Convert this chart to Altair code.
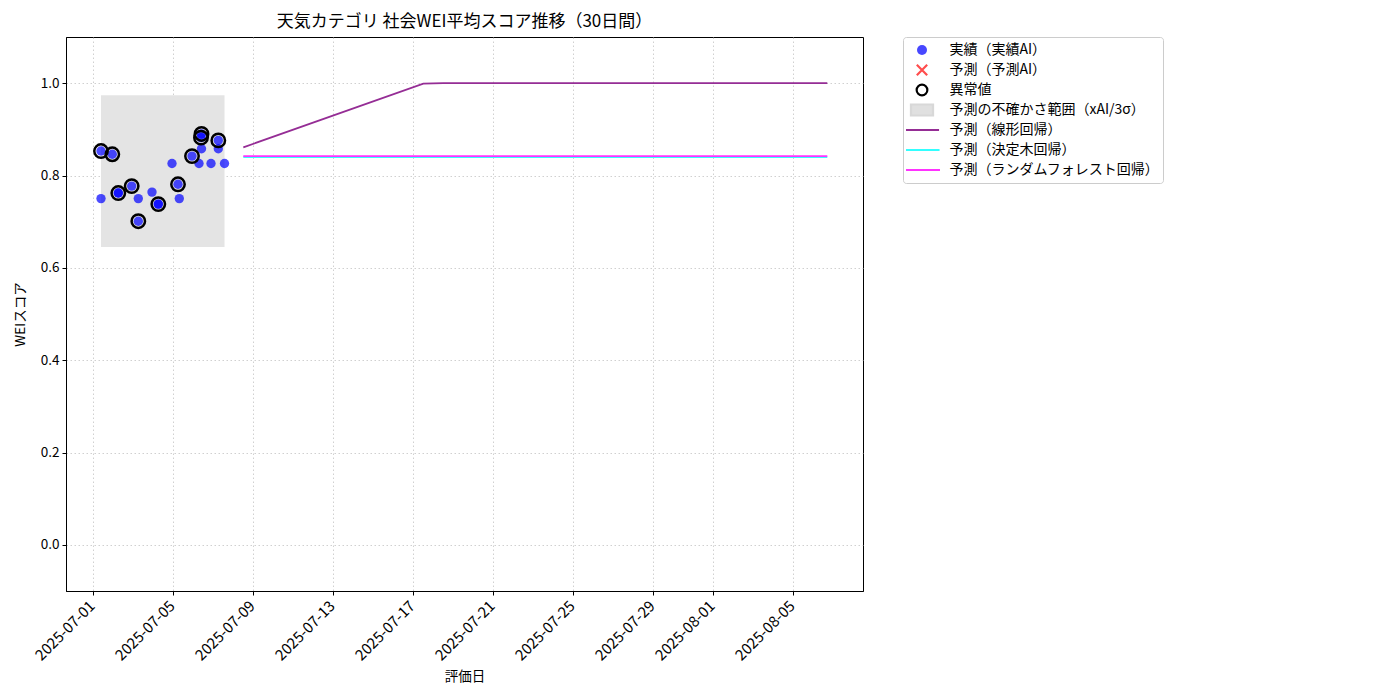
import altair as alt
import pandas as pd

# ---------------- data ----------------
actual_dates = [
    "2025-07-01T09:36", "2025-07-01T09:36", "2025-07-01T23:10", "2025-07-02T06:22",
    "2025-07-02T06:22", "2025-07-02T22:26", "2025-07-03T06:22", "2025-07-03T06:22",
    "2025-07-03T22:48", "2025-07-04T06:22", "2025-07-04T06:22", "2025-07-04T22:48",
    "2025-07-05T06:00", "2025-07-05T07:34", "2025-07-05T22:48", "2025-07-06T07:12",
    "2025-07-06T10:12", "2025-07-06T09:36", "2025-07-06T10:12", "2025-07-06T21:36",
    "2025-07-07T06:22", "2025-07-07T06:22", "2025-07-07T13:48",
]
actual_values = [
    0.750, 0.853, 0.846, 0.762,
    0.762, 0.777, 0.750, 0.701,
    0.764, 0.738, 0.738, 0.826,
    0.781, 0.750, 0.842, 0.826,
    0.858, 0.882, 0.890, 0.826,
    0.876, 0.858, 0.826,
]
outlier_dates = [
    "2025-07-01T09:36", "2025-07-01T23:10", "2025-07-02T06:22", "2025-07-02T22:26",
    "2025-07-03T06:22", "2025-07-04T06:22", "2025-07-05T06:00", "2025-07-05T22:48",
    "2025-07-06T09:36", "2025-07-06T10:12", "2025-07-07T06:22",
]
outlier_values = [
    0.853, 0.846, 0.762, 0.777,
    0.701, 0.738, 0.781, 0.842,
    0.882, 0.890, 0.876,
]
band_start = ["2025-07-01T09:36"]
band_end = ["2025-07-07T13:48"]
band_low = [0.645]
band_high = [0.974]

lin_dates = ["2025-07-08T12:22", "2025-07-17T12:22", "2025-07-18T12:22", "2025-08-06T17:10"]
lin_values = [0.861, 0.999, 1.0, 1.0]
tree_dates = ["2025-07-08T12:22", "2025-08-06T17:10"]
tree_values = [0.840, 0.840]
rf_dates = ["2025-07-08T12:22", "2025-08-06T17:10"]
rf_values = [0.842, 0.842]

legend_labels = [
    "実績（実績AI）",
    "予測（予測AI）",
    "異常値",
    "予測の不確かさ範囲（xAI/3σ）",
    "予測（線形回帰）",
    "予測（決定木回帰）",
    "予測（ランダムフォレスト回帰）",
]

x_tick_days = [(7, 1), (7, 5), (7, 9), (7, 13), (7, 17), (7, 21), (7, 25), (7, 29), (8, 1), (8, 5)]
y_ticks = [0.0, 0.2, 0.4, 0.6, 0.8, 1.0]

# ---------------- styling ----------------
FONT = "Noto Sans CJK JP"

x_ticks = [alt.DateTime(year=2025, month=m, date=d) for m, d in x_tick_days]
x_scale = alt.Scale(domain=[alt.DateTime(year=2025, month=6, date=29, hours=15, minutes=36),
                            alt.DateTime(year=2025, month=8, date=8, hours=12)])
y_scale = alt.Scale(domain=[-0.1, 1.1], nice=False, zero=False)

x_axis = alt.Axis(values=x_ticks, format="%Y-%m-%d", labelAngle=-45, labelAlign="right",
                  labelBaseline="top", labelOffset=-6, labelFontSize=15, labelOverlap=False,
                  title="評価日")
y_axis = alt.Axis(values=y_ticks, format=".1f", title="WEIスコア")

def xenc(field="date"):
    return alt.X(f"{field}:T", scale=x_scale, axis=x_axis)

def yenc(field="value"):
    return alt.Y(f"{field}:Q", scale=y_scale, axis=y_axis)

actual_df = pd.DataFrame({"date": actual_dates, "value": actual_values})
outlier_df = pd.DataFrame({"date": outlier_dates, "value": outlier_values})
band_df = pd.DataFrame({"start": band_start, "end": band_end, "low": band_low, "high": band_high})
lin_df = pd.DataFrame({"date": lin_dates, "value": lin_values})
tree_df = pd.DataFrame({"date": tree_dates, "value": tree_values})
rf_df = pd.DataFrame({"date": rf_dates, "value": rf_values})
leg_df = pd.DataFrame({"label": legend_labels})

band = alt.Chart(band_df).mark_rect(color="#e4e4e4", opacity=1).encode(
    x=alt.X("start:T", scale=x_scale, axis=x_axis),
    x2="end:T",
    y=alt.Y("low:Q", scale=y_scale, axis=y_axis),
    y2="high:Q",
)

pts = alt.Chart(actual_df).mark_circle(color="#0000ff", opacity=0.7, size=88).encode(
    x=xenc(), y=yenc()
)

outl = alt.Chart(outlier_df).mark_point(shape="circle", filled=False, stroke="black",
                                        strokeWidth=2.5, size=180, opacity=1).encode(
    x=xenc(), y=yenc()
)

lin = alt.Chart(lin_df).mark_line(color="#952d95", strokeWidth=1.8).encode(x=xenc(), y=yenc())
tree = alt.Chart(tree_df).mark_line(color="#33ffff", strokeWidth=1.8).encode(x=xenc(), y=yenc())
rf = alt.Chart(rf_df).mark_line(color="#ff33ff", strokeWidth=1.8).encode(x=xenc(), y=yenc())

leg = alt.Legend(title=None, orient="none", legendX=837, legendY=0)
fills = ["#4747ff", "transparent", "transparent", "#e0e0e0", "transparent", "transparent", "transparent"]
strokes = ["transparent", "#ff4d4d", "black", "#d8d8d8", "#952d95", "#33ffff", "#ff33ff"]
shapes = ["circle", "M-1,-1L1,1M-1,1L1,-1", "circle", "M-2,-1H2V1H-2Z",
          "M-3,0H3", "M-3,0H3", "M-3,0H3"]
sizes = [100, 144, 156, 49, 100, 100, 100]

dummy = alt.Chart(leg_df).mark_point(opacity=1).transform_filter("false").encode(
    fill=alt.Fill("label:N", scale=alt.Scale(domain=legend_labels, range=fills), legend=leg),
    stroke=alt.Stroke("label:N", scale=alt.Scale(domain=legend_labels, range=strokes), legend=leg),
    shape=alt.Shape("label:N", scale=alt.Scale(domain=legend_labels, range=shapes), legend=leg),
    size=alt.Size("label:N", scale=alt.Scale(domain=legend_labels, range=sizes), legend=leg),
)

chart = alt.layer(band, pts, outl, lin, tree, rf, dummy).properties(
    width=797,
    height=554,
    title=alt.TitleParams("天気カテゴリ 社会WEI平均スコア推移（30日間）", font=FONT, fontSize=17,
                          fontWeight="normal", color="black", anchor="middle", offset=6),
    autosize=alt.AutoSizeParams(type="none"),
    padding={"left": 58, "top": 29, "right": 320, "bottom": 100},
).configure_view(
    stroke="black", strokeWidth=1
).configure_axis(
    labelFont=FONT, titleFont=FONT, labelFontSize=13.5, titleFontSize=13.5,
    labelColor="black", titleColor="black", titleFontWeight="normal",
    domainColor="black", tickColor="black", tickSize=4, labelPadding=3,
    grid=True, gridColor="#c4c4c4", gridDash=[1.5, 2.5], gridWidth=0.8,
).configure_axisY(
    titlePadding=13
).configure_axisX(
    titlePadding=6
).configure_legend(
    labelFont=FONT, labelFontSize=14, labelColor="black", padding=3, rowPadding=0,
    clipHeight=20, symbolOffset=8.5, labelOffset=20, strokeColor="#cccccc",
    fillColor="white", cornerRadius=3, labelLimit=400, symbolStrokeWidth=2.2,
)

chart.save("out.html", embed_options={"renderer": "svg", "actions": False})
